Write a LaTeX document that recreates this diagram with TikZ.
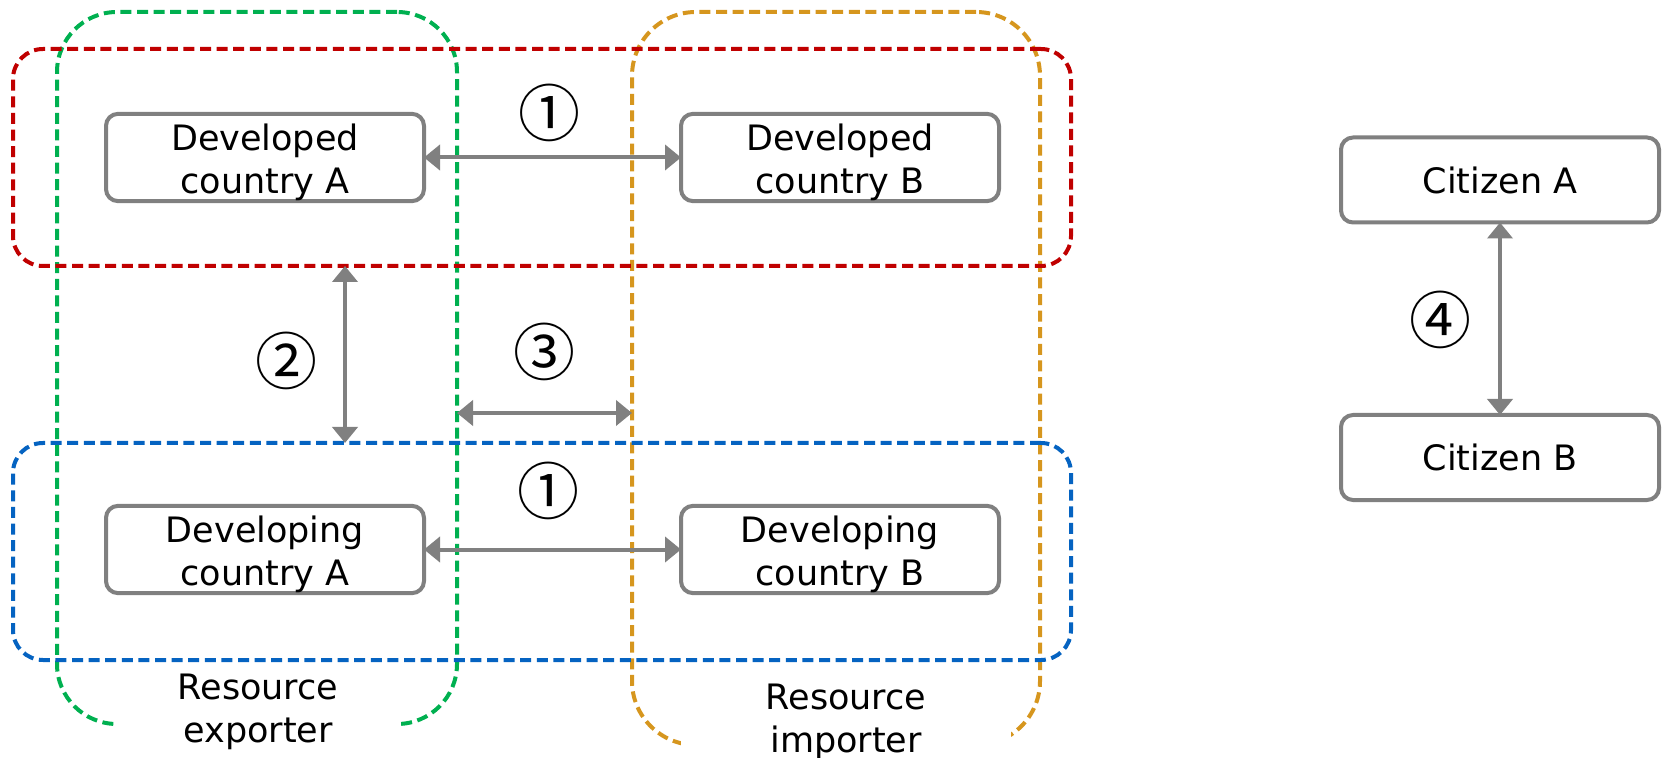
\documentclass[tikz,border=0pt]{standalone}
\usepackage{fontspec}
\setmainfont{DejaVu Sans}
\newfontfamily\cjknum{Noto Sans CJK JP}
\usetikzlibrary{arrows.meta}
\definecolor{cgreen}{RGB}{0,176,80}
\definecolor{cred}{RGB}{192,0,0}
\definecolor{corange}{RGB}{214,150,30}
\definecolor{cblue}{RGB}{5,99,193}
\definecolor{cgray}{RGB}{128,128,128}
\newcommand{\toplift}{\rule{0pt}{18.5pt}}
\begin{document}
\begin{tikzpicture}[x=0.5pt,y=-0.5pt,
  group/.style={draw, dash pattern=on 5.5pt off 2.8pt, line width=2pt, outer sep=0pt, inner sep=0pt},
  cbox/.style={draw=cgray, line width=2pt, fill=white, rounded corners=6pt, minimum width=159pt, minimum height=42.5pt, align=center, font=\fontsize{17.5}{21.5}\selectfont, inner sep=0pt, outer sep=0pt},
  num/.style={font=\cjknum\fontsize{31}{31}\selectfont, inner sep=0pt},
  conn/.style={draw=cgray, line width=2pt, {Triangle[width=12.5pt,length=8pt]}-{Triangle[width=12.5pt,length=8pt]}},
  lab/.style={fill=white, align=center, font=\fontsize{17.5}{21.5}\selectfont, inner sep=0pt}]
\useasboundingbox (0,0) rectangle (1663,758);
% containers
\node[group, draw=cgreen, rounded corners=30pt, minimum width=200pt, minimum height=356pt] (green) at (257,368) {};
\node[group, draw=corange, rounded corners=32pt, minimum width=204pt, minimum height=366.5pt] (orange) at (836,378.5) {};
\node[group, draw=cred, rounded corners=15pt, minimum width=529pt, minimum height=108.5pt] (red) at (542,157.5) {};
\node[group, draw=cblue, rounded corners=15pt, minimum width=529pt, minimum height=108.5pt] (blue) at (542,551.5) {};
% container labels
\node[lab, minimum width=141pt, minimum height=46pt] (lexp) at (258,712) {Resource\\exporter};
\node[lab, minimum width=165pt, minimum height=57pt] (limp) at (846,722) {Resource\\importer};
% boxes
\node[cbox] (devA) at (265,157.5) {\toplift Developed\\country A};
\node[cbox] (devB) at (840,157.5) {\toplift Developed\\country B};
\node[cbox] (dgA) at (265,549.5) {\toplift Developing\\country A};
\node[cbox] (dgB) at (840,549.5) {\toplift Developing\\country B};
\node[cbox] (citA) at (1500,180) {Citizen A};
\node[cbox] (citB) at (1500,457.5) {Citizen B};
% connectors
\coordinate (x2) at (345,0);
\coordinate (y3) at (0,413);
\draw[conn] (devA) -- (devB);
\draw[conn] (dgA) -- (dgB);
\draw[conn] (red.south -| x2) -- (blue.north -| x2);
\draw[conn] (green.east |- y3) -- (orange.west |- y3);
\draw[conn] (citA) -- (citB);
% numbers
\node[num] (n1a) at (549,113) {①};
\node[num] (n1b) at (548,491) {①};
\node[num] (n2) at (286,361) {②};
\node[num] (n3) at (544,352) {③};
\node[num] (n4) at (1440,320) {④};
\end{tikzpicture}
\end{document}
